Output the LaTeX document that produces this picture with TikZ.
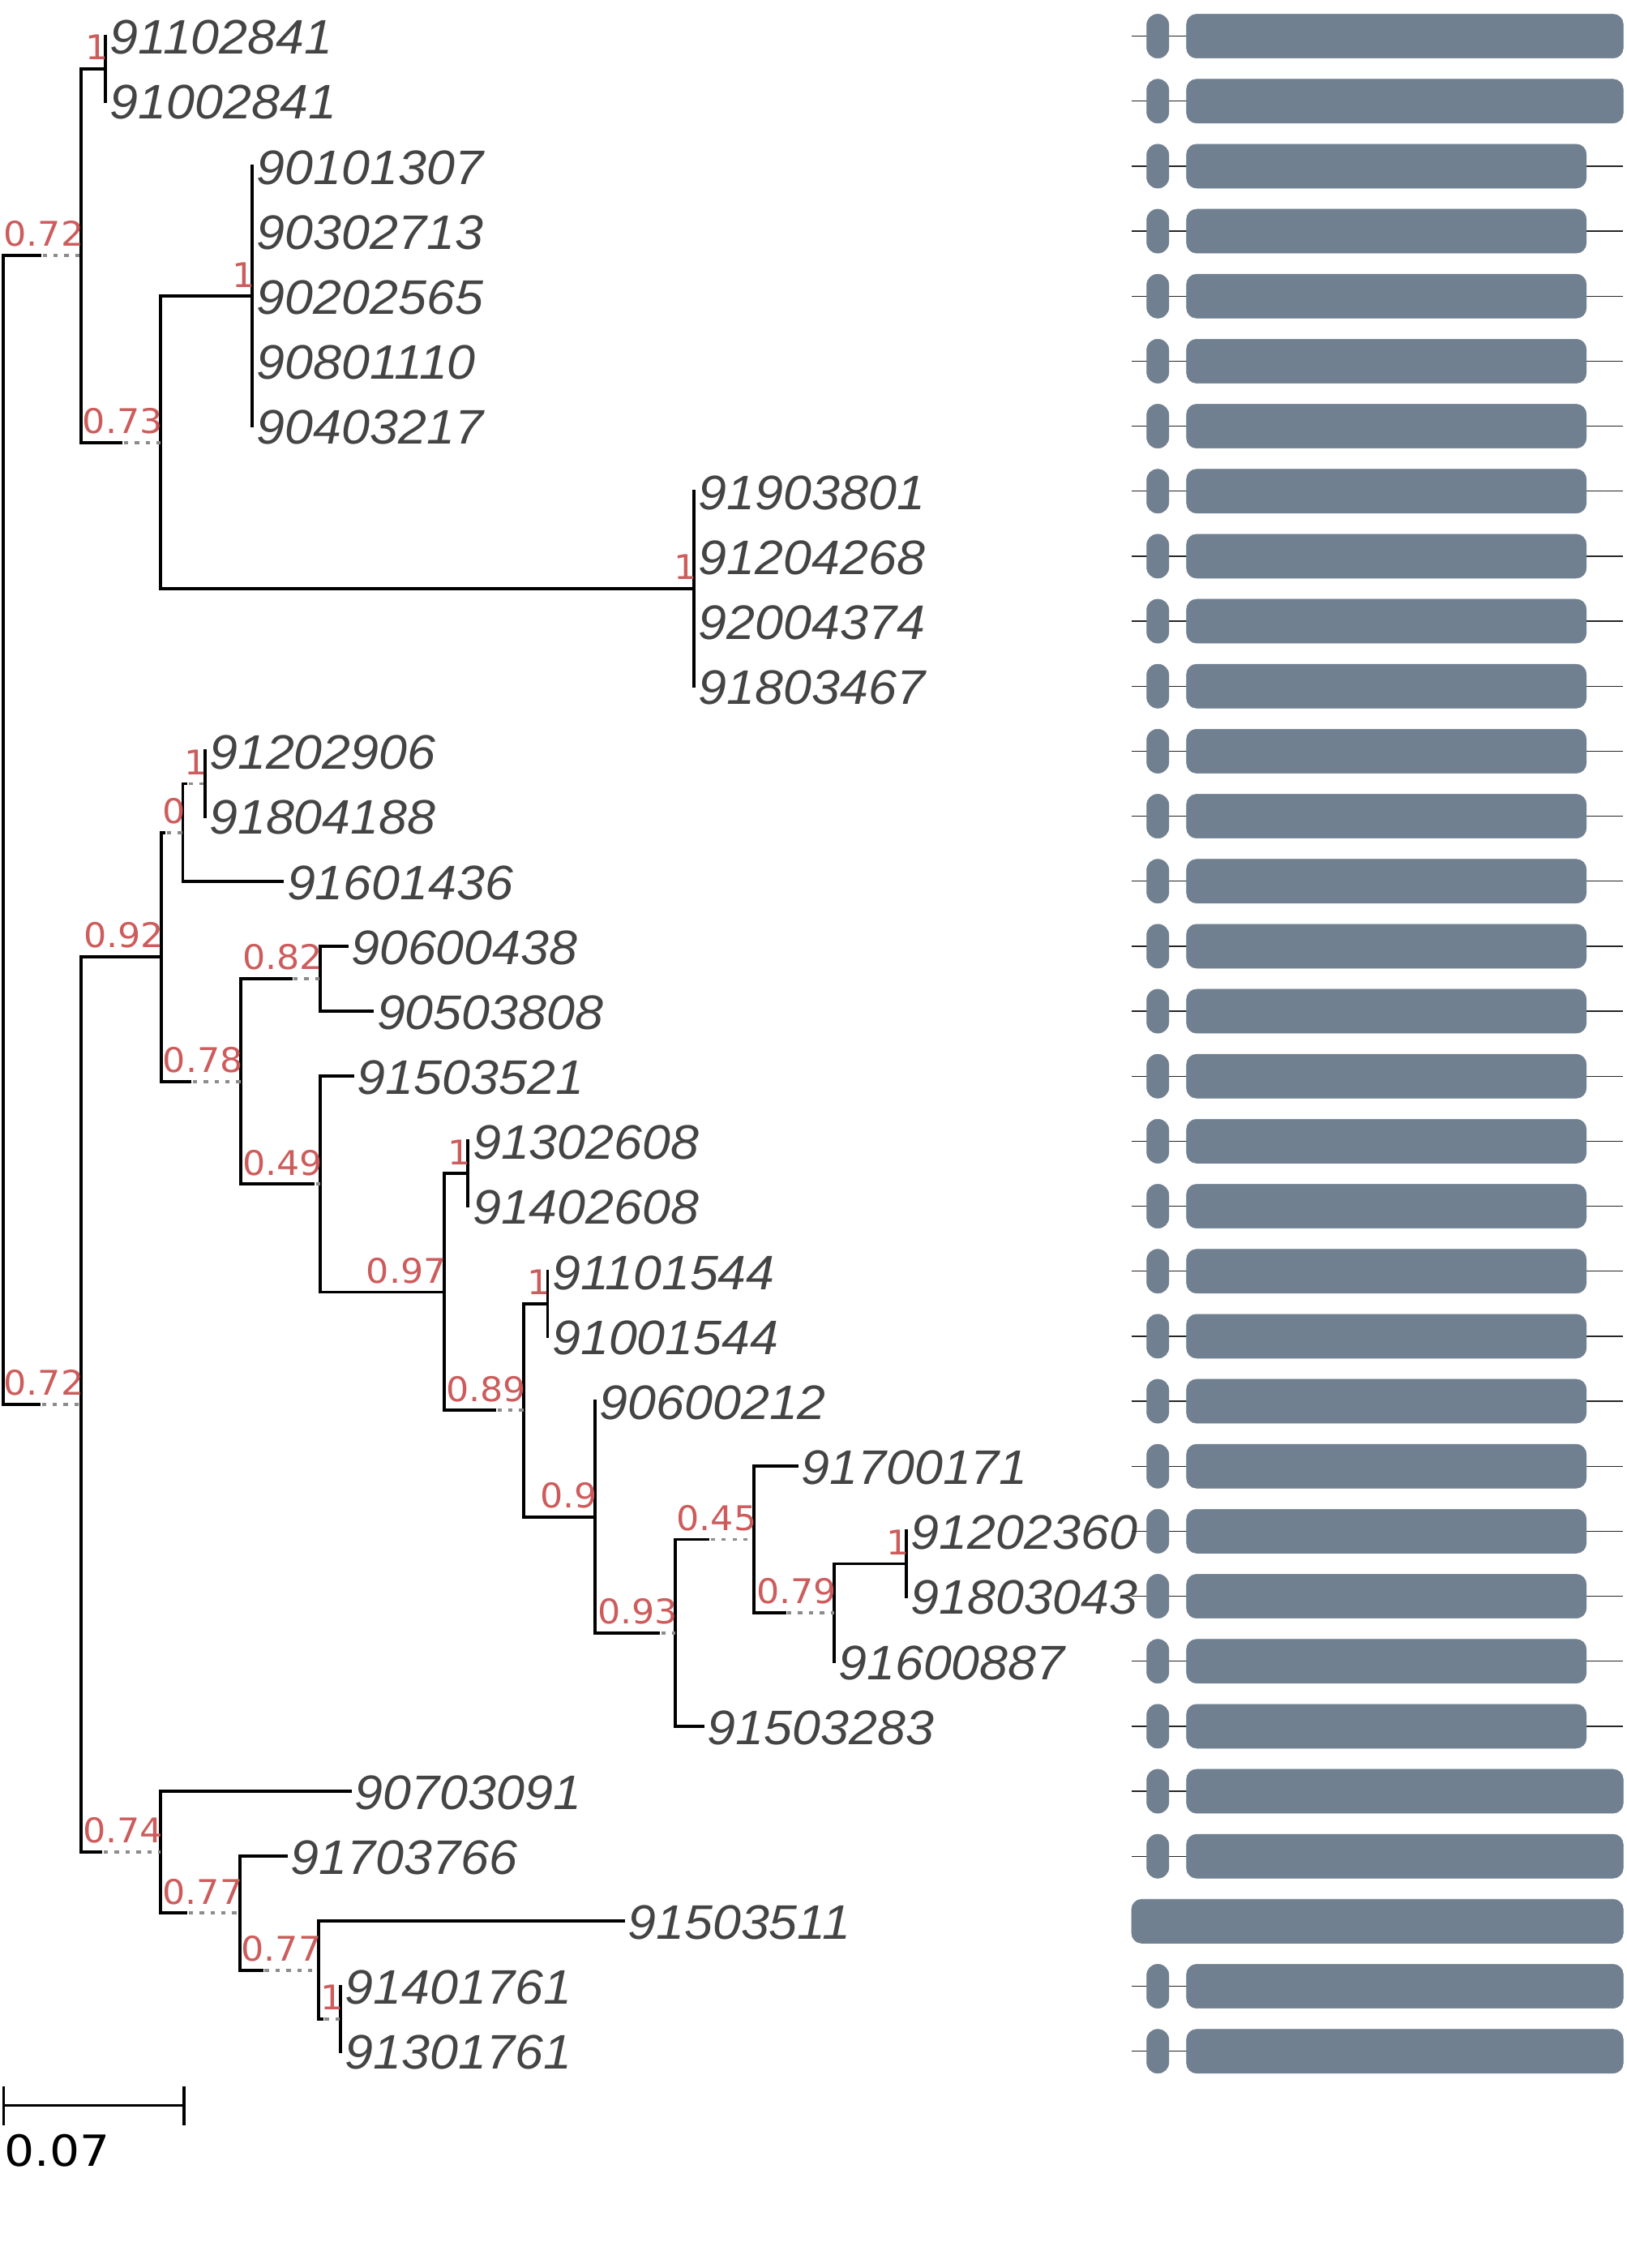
\documentclass[tikz,border=0pt]{standalone}
\usepackage{graphicx}
\usepackage{fontspec}
\newfontfamily\leaffont{Liberation Sans}
\newfontfamily\supfont{DejaVu Sans}
\definecolor{leafgray}{RGB}{68,68,68}
\definecolor{supred}{RGB}{205,92,92}
\definecolor{domfill}{RGB}{112,128,144}
\definecolor{dotgray}{RGB}{140,140,140}
\newcommand\tvert[3]{\draw[tl] (#1 |- #2) -- (#1 |- #3);}
\newcommand\tbr[2]{\draw[tl] (#1 |- #2) -- (#2);}
\newcommand\tbrd[3]{\draw[tl] (#1 |- #2) -- ++(#3,0) coordinate (s#2); \draw[dl] (s#2) -- (#2);}
\newcommand\tsup[2]{\node[sup] (lab#1) at ([shift={(2,-6.3)}]#1) {\scalebox{1.06}[1]{#2}};}
\newcommand\tleaf[2]{\node[leaf] (t#1) at ([shift={(3,12.5)}]#1) {\scalebox{1.05}[1]{#2}};}
\begin{document}
\begin{tikzpicture}[x=1pt,y=-1pt,
  tl/.style={line width=2.2pt, line cap=rect, black},
  dl/.style={line width=2.2pt, dotgray, dash pattern=on 3pt off 4.5pt, dash phase=5.5pt},
  leaf/.style={anchor=base west, inner sep=0pt, text=leafgray, font=\leaffont\itshape\fontsize{33.5}{40}\selectfont},
  sup/.style={anchor=base east, inner sep=0pt, text=supred, font=\supfont\fontsize{23.5}{28}\selectfont},
  sbar/.style={line width=1.9pt, black},
  rowline/.style={line width=0.8pt, black!85},
  dom/.style={fill=domfill, draw=domfill, line width=0.3pt}]
\useasboundingbox (0,0) rectangle (1125,1568);

% leaves
\coordinate (l0) at (73,25);
\coordinate (l1) at (73,69.9);
\coordinate (l2) at (174.5,114.9);
\coordinate (l3) at (174.5,159.8);
\coordinate (l4) at (174.5,204.8);
\coordinate (l5) at (174.5,249.7);
\coordinate (l6) at (174.5,294.6);
\coordinate (l7) at (480,339.6);
\coordinate (l8) at (480,384.5);
\coordinate (l9) at (480,429.5);
\coordinate (l10) at (480,474.4);
\coordinate (l11) at (141.6,519.3);
\coordinate (l12) at (141.6,564.3);
\coordinate (l13) at (195.3,609.2);
\coordinate (l14) at (239.7,654.2);
\coordinate (l15) at (257.5,699.1);
\coordinate (l16) at (244,744.0);
\coordinate (l17) at (323.7,789.0);
\coordinate (l18) at (323.7,833.9);
\coordinate (l19) at (378.7,878.9);
\coordinate (l20) at (378.7,923.8);
\coordinate (l21) at (411.5,968.7);
\coordinate (l22) at (551,1013.7);
\coordinate (l23) at (626.8,1058.6);
\coordinate (l24) at (626.8,1103.6);
\coordinate (l25) at (576.7,1148.5);
\coordinate (l26) at (486.1,1193.4);
\coordinate (l27) at (242.3,1238.4);
\coordinate (l28) at (198,1283.3);
\coordinate (l29) at (431,1328.3);
\coordinate (l30) at (235.5,1373.2);
\coordinate (l31) at (235.5,1418.1);

% internal nodes
\coordinate (nR) at (2.4,573.9);
\coordinate (nA) at (56.2,176.7);
\coordinate (p01) at (73,47.5);
\coordinate (nB) at (110.8,305.9);
\coordinate (nC) at (174.5,204.8);
\coordinate (nD) at (480,407);
\coordinate (nE) at (56.2,971);
\coordinate (nF) at (111.5,661.6);
\coordinate (nFa) at (126.4,575.5);
\coordinate (pEle) at (141.6,541.8);
\coordinate (nFb) at (166.3,747.7);
\coordinate (nFc) at (221.3,676.6);
\coordinate (nFd) at (221.3,818.7);
\coordinate (nH) at (307,893.3);
\coordinate (pSev) at (323.7,811.4);
\coordinate (nI) at (362,975.1);
\coordinate (pNin) at (378.7,901.3);
\coordinate (nJ) at (411.5,1048.8);
\coordinate (nK) at (467,1128.8);
\coordinate (nL) at (521.5,1064.3);
\coordinate (nM) at (576.7,1114.8);
\coordinate (pTwe) at (626.8,1081.1);
\coordinate (nG) at (111,1280.5);
\coordinate (nGa) at (166,1322.6);
\coordinate (nGb) at (220.5,1362);
\coordinate (pThi) at (235.5,1395.7);

% vertical lines
\tvert{nR}{nA}{nE}
\tvert{nA}{p01}{nB}
\tvert{p01}{l0}{l1}
\tvert{nB}{nC}{nD}
\tvert{nC}{l2}{l6}
\tvert{nD}{l7}{l10}
\tvert{nE}{nF}{nG}
\tvert{nF}{nFa}{nFb}
\tvert{nFa}{pEle}{l13}
\tvert{pEle}{l11}{l12}
\tvert{nFb}{nFc}{nFd}
\tvert{nFc}{l14}{l15}
\tvert{nFd}{l16}{nH}
\tvert{nH}{pSev}{nI}
\tvert{pSev}{l17}{l18}
\tvert{nI}{pNin}{nJ}
\tvert{pNin}{l19}{l20}
\tvert{nJ}{l21}{nK}
\tvert{nK}{nL}{l26}
\tvert{nL}{l22}{nM}
\tvert{nM}{pTwe}{l25}
\tvert{pTwe}{l23}{l24}
\tvert{nG}{l27}{nGa}
\tvert{nGa}{l28}{nGb}
\tvert{nGb}{l29}{pThi}
\tvert{pThi}{l30}{l31}

% branches
\tbrd{nR}{nA}{25.1}
\tbr{nA}{p01}
\tbrd{nA}{nB}{27.6}
\tbr{nB}{nC}
\tbr{nB}{nD}
\tbrd{nR}{nE}{24.6}
\tbr{nE}{nF}
\tbrd{nF}{nFa}{2}
\tbrd{nFa}{pEle}{2}
\tbr{nFa}{l13}
\tbrd{nF}{nFb}{19.8}
\tbrd{nFb}{nFc}{34.7}
\tbr{nFc}{l14}
\tbr{nFc}{l15}
\tbrd{nFb}{nFd}{50.2}
\tbr{nFd}{l16}
\tbr{nFd}{nH}
\tbr{nH}{pSev}
\tbrd{nH}{nI}{35}
\tbr{nI}{pNin}
\tbr{nI}{nJ}
\tbrd{nJ}{nK}{43.8}
\tbrd{nK}{nL}{22.5}
\tbr{nK}{l26}
\tbr{nL}{l22}
\tbrd{nL}{nM}{20.9}
\tbr{nM}{pTwe}
\tbrd{nE}{nG}{13.6}
\tbr{nG}{l27}
\tbrd{nG}{nGa}{17.5}
\tbr{nGa}{l28}
\tbrd{nGa}{nGb}{15}
\tbr{nGb}{l29}
\tbrd{nGb}{pThi}{2}

% support values
\tsup{nA}{0.72}
\tsup{p01}{1}
\tsup{nB}{0.73}
\tsup{nC}{1}
\tsup{nD}{1}
\tsup{nE}{0.72}
\tsup{nF}{0.92}
\tsup{nFa}{0}
\tsup{pEle}{1}
\tsup{nFb}{0.78}
\tsup{nFc}{0.82}
\tsup{nFd}{0.49}
\tsup{nH}{0.97}
\tsup{pSev}{1}
\tsup{nI}{0.89}
\tsup{pNin}{1}
\tsup{nJ}{0.9}
\tsup{nK}{0.93}
\tsup{nL}{0.45}
\tsup{nM}{0.79}
\tsup{pTwe}{1}
\tsup{nG}{0.74}
\tsup{nGa}{0.77}
\tsup{nGb}{0.77}
\tsup{pThi}{1}

% leaf names
\tleaf{l0}{91102841}
\tleaf{l1}{91002841}
\tleaf{l2}{90101307}
\tleaf{l3}{90302713}
\tleaf{l4}{90202565}
\tleaf{l5}{90801110}
\tleaf{l6}{90403217}
\tleaf{l7}{91903801}
\tleaf{l8}{91204268}
\tleaf{l9}{92004374}
\tleaf{l10}{91803467}
\tleaf{l11}{91202906}
\tleaf{l12}{91804188}
\tleaf{l13}{91601436}
\tleaf{l14}{90600438}
\tleaf{l15}{90503808}
\tleaf{l16}{91503521}
\tleaf{l17}{91302608}
\tleaf{l18}{91402608}
\tleaf{l19}{91101544}
\tleaf{l20}{91001544}
\tleaf{l21}{90600212}
\tleaf{l22}{91700171}
\tleaf{l23}{91202360}
\tleaf{l24}{91803043}
\tleaf{l25}{91600887}
\tleaf{l26}{91503283}
\tleaf{l27}{90703091}
\tleaf{l28}{91703766}
\tleaf{l29}{91503511}
\tleaf{l30}{91401761}
\tleaf{l31}{91301761}

% domain architecture
\foreach \i/\xe in {0/1122.5,1/1122.5,2/1097,3/1097,4/1097,5/1097,6/1097,7/1097,8/1097,9/1097,10/1097,11/1097,12/1097,13/1097,14/1097,15/1097,16/1097,17/1097,18/1097,19/1097,20/1097,21/1097,22/1097,23/1097,24/1097,25/1097,26/1097,27/1122.5,28/1122.5,30/1122.5,31/1122.5}{
  \pgfmathsetmacro\yy{25+44.94*\i}
  \draw[rowline] (782.5,\yy) -- (1122.5,\yy);
  \path[dom, rounded corners=7.5pt] (793,{\yy-15.2}) rectangle (808.3,{\yy+15.2});
  \path[dom, rounded corners=7pt] (820.5,{\yy-15.2}) rectangle (\xe,{\yy+15.2});
}
\path[dom, rounded corners=7pt] (782.5,{25+44.94*29-15.2}) rectangle (1122.5,{25+44.94*29+15.2});

% scale bar
\coordinate (sbA) at (2.4,1455.5);
\coordinate (sbB) at (127.2,1455.5);
\draw[sbar] (sbA) -- (sbB);
\draw[sbar] ([shift={(0,-13.1)}]sbA) -- ([shift={(0,14)}]sbA);
\draw[sbar] ([shift={(0,-13.1)}]sbB) -- ([shift={(0,14)}]sbB);
\node[anchor=base west, inner sep=0pt, font=\supfont\fontsize{29.7}{34}\selectfont] (sbl) at (3,1497.6) {\scalebox{1.1}[1]{0.07}};
\end{tikzpicture}
\end{document}
